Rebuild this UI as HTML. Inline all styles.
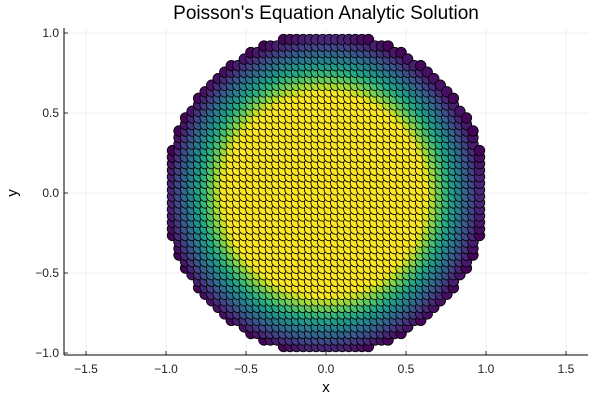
<!DOCTYPE html>
<html><head><meta charset="utf-8"><style>
html,body{margin:0;padding:0;background:#fff;}
svg{display:block;font-family:"Liberation Sans",sans-serif;}
</style></head><body>
<svg id="chart" width="600" height="400">
<text x="326" y="19" font-size="19" text-anchor="middle" fill="#000">Poisson's Equation Analytic Solution</text>
<g id="grid"></g>
<g id="pts"></g>
<g id="axes"></g>
<text x="326" y="392" font-size="15" text-anchor="middle">x</text>
<text x="17" y="193" font-size="15" text-anchor="middle" transform="rotate(-90 17 193)">y</text>
</svg>
<script>
const xTicks = [-1.5, -1.0, -0.5, 0.0, 0.5, 1.0, 1.5];
const xTickLabels = ["\u22121.5","\u22121.0","\u22120.5","0.0","0.5","1.0","1.5"];
const yTicks = [-1.0, -0.5, 0.0, 0.5, 1.0];
const yTickLabels = ["\u22121.0","\u22120.5","0.0","0.5","1.0"];
const gridCount = 50;
const colorInner = 0.63;
const colorOuter = 1.0;
const viridis = ["#440154","#482475","#414487","#355f8d","#2a788e","#21918c","#22a884","#44bf70","#7ad151","#bddf26","#fde725"];

const NS = "http://www.w3.org/2000/svg";
const L = 64, R = 588, T = 28, B = 355;
const sx = v => 326 + v * 160;
const sy = v => 193 - v * 160;

function hex(c){return [parseInt(c.slice(1,3),16),parseInt(c.slice(3,5),16),parseInt(c.slice(5,7),16)];}
function cmap(t){
  t = Math.max(0, Math.min(1, t));
  const p = t * (viridis.length - 1), i = Math.min(Math.floor(p), viridis.length - 2), f = p - i;
  const a = hex(viridis[i]), b = hex(viridis[i+1]);
  return "rgb(" + a.map((v,k)=>Math.round(v + (b[k]-v)*f)).join(",") + ")";
}
function el(tag, attrs, parent){
  const e = document.createElementNS(NS, tag);
  for (const k in attrs) e.setAttribute(k, attrs[k]);
  parent.appendChild(e); return e;
}
const grid = document.getElementById("grid");
const axes = document.getElementById("axes");
const pts = document.getElementById("pts");

xTicks.forEach((v, i) => {
  const g = el("line", {x1:sx(v), x2:sx(v), y1:T, y2:B, stroke:"#e6e6e6", "stroke-width":0.6}, grid);
  
  
  const tk = el("line", {x1:sx(v), x2:sx(v), y1:B, y2:B-4, stroke:"#000", "stroke-width":0.8}, axes);
  
  
  const t = el("text", {x:sx(v), y:B+18, "font-size":12, "text-anchor":"middle", fill:"#222"}, axes);
  t.textContent = xTickLabels[i];
  
  
});
yTicks.forEach((v, i) => {
  const g = el("line", {x1:L, x2:R, y1:sy(v), y2:sy(v), stroke:"#e6e6e6", "stroke-width":0.6}, grid);
  
  
  const tk = el("line", {x1:L, x2:L+4, y1:sy(v), y2:sy(v), stroke:"#000", "stroke-width":0.8}, axes);
  
  
  const t = el("text", {x:L-5, y:sy(v)+4, "font-size":12, "text-anchor":"end", fill:"#222"}, axes);
  t.textContent = yTickLabels[i];
  
  
});
const ax1 = el("line", {x1:L, x2:L, y1:T, y2:B, stroke:"#000", "stroke-width":1}, axes);


const ax2 = el("line", {x1:L, x2:R, y1:B, y2:B, stroke:"#000", "stroke-width":1}, axes);



for (let i = 0; i < gridCount; i++) {
  const x = -1 + 2 * i / (gridCount - 1);
  for (let j = 0; j < gridCount; j++) {
    const y = -1 + 2 * j / (gridCount - 1);
    const r = Math.sqrt(x*x + y*y);
    if (r >= 1) continue;
    const c = el("circle", {cx:sx(x), cy:sy(y), r:5.3, fill:cmap((colorOuter - r)/(colorOuter - colorInner)), stroke:"#000", "stroke-width":0.8}, pts);
    
    
  }
}
</script>
</body></html>
